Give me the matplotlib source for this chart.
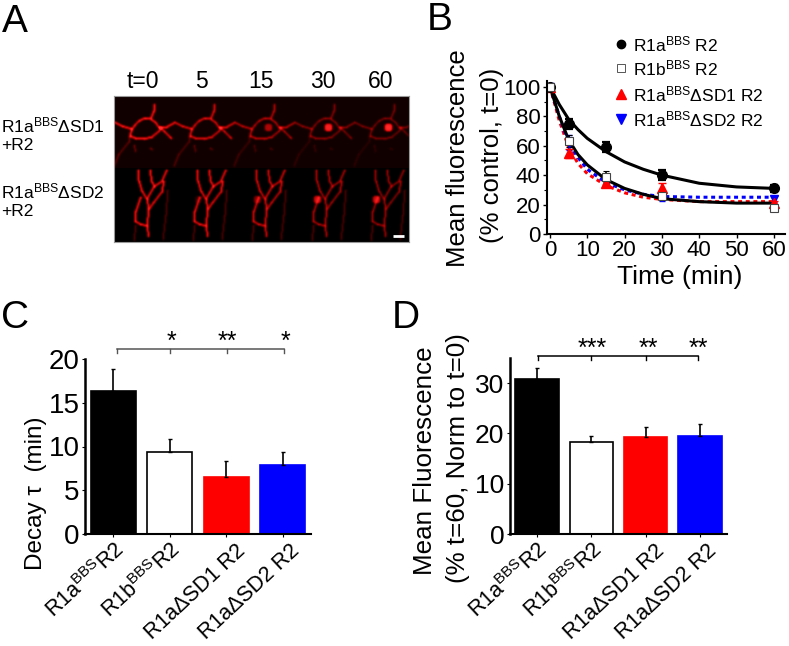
import matplotlib
matplotlib.use("Agg")
import matplotlib.pyplot as plt
from matplotlib.colors import LinearSegmentedColormap
from matplotlib.transforms import ScaledTranslation
import numpy as np

plt.rcParams['font.family'] = ['Liberation Sans', 'DejaVu Sans']
plt.rcParams['mathtext.fontset'] = 'custom'
plt.rcParams['mathtext.rm'] = 'Liberation Sans'
plt.rcParams['mathtext.default'] = 'rm'

W, H = 789, 646

# panel A - traced cell outlines, in pixels of the first frame
time_labels = ['t=0', '5', '15', '30', '60']
time_label_x = [143, 201, 261, 323, 381]
row_labels = ['R1a$^{BBS}$ΔSD1\n+R2', 'R1a$^{BBS}$ΔSD2\n+R2']
top_paths = [
    [(132, 129), (135, 125), (139, 121), (145, 118), (151, 119), (155, 122), (159, 127), (164, 131), (170, 137), (172, 139)],
    [(130, 136), (135, 138), (144, 139), (152, 137), (159, 131), (162, 127)],
    [(114, 122), (122, 126), (132, 129), (130, 136)],
    [(159, 127), (167, 127), (174, 123)],
    [(151, 118), (154, 111), (155, 104)],
]
top_faint = [
    [(114, 166), (119, 154), (129, 142), (130, 136)],
    [(134, 145), (136, 152)],
    [(150, 148), (153, 150)],
]
bottom_paths = [
    [(138, 170), (139, 181), (142, 191), (147, 199), (149, 209), (147, 226), (149, 237)],
    [(167, 170), (162, 181), (154, 187), (147, 199)],
    [(164, 181), (162, 192), (154, 202), (149, 209)],
    [(141, 197), (136, 211), (135, 221), (140, 224), (147, 226)],
    [(150, 170), (152, 182), (155, 187)],
]
bottom_faint = [
    [(136, 225), (134, 241)],
    [(168, 190), (166, 215), (163, 240)],
]
top_offset = [0, 60, 120, 180, 240]
bottom_offset = [0, 59, 118, 178, 237]
top_level = [1.0, 0.8, 0.6, 0.42, 0.36]
bottom_level = [1.0, 0.95, 0.8, 0.62, 0.55]
top_blob = [0, 0, 0.4, 0.8, 0.9]
bottom_blob = [0, 0.1, 0.3, 0.55, 0.55]

# panel B
times = [0, 5, 15, 30, 60]
r1a = [100, 75, 59, 40, 31]
r1a_err = [0, 3.5, 3.5, 3.5, 2.5]
r1b = [100, 63, 39, 26, 18]
r1b_err = [0, 4, 3.5, 3, 1.5]
sd1 = [100, 55, 35, 31, 21]
sd1_err = [0, 3, 2.5, 3.5, 1.5]
sd2 = [100, 62, 37, 25, 24]
sd2_err = [0, 5, 3, 2.5, 2]
# fit curves
fit_t = [0, 2.5, 5, 7.5, 10, 15, 20, 25, 30, 40, 50, 60]
fit_r1a = [100, 88, 78, 71, 65, 56, 49, 44, 40, 34.5, 32, 31]
fit_r1b = [100, 80, 64, 54, 47, 37, 31, 27, 24, 22, 21, 21]
fit_sd1 = [100, 77, 59, 48, 41, 33, 28, 25, 23.5, 22, 22, 22]
fit_sd2 = [100, 80, 62, 52, 44, 35, 30, 27, 25.5, 25, 25, 25]
legend_names = ['R1a$^{BBS}$ R2', 'R1b$^{BBS}$ R2', 'R1a$^{BBS}$ΔSD1 R2', 'R1a$^{BBS}$ΔSD2 R2']

# panels C and D
bar_names = ['R1a$^{BBS}$R2', 'R1b$^{BBS}$R2', 'R1aΔSD1 R2', 'R1aΔSD2 R2']
bar_colors = ['black', 'white', 'red', 'blue']
tau = [16.4, 9.4, 6.5, 7.9]
tau_err = [2.5, 1.5, 1.8, 1.45]
tau_stars = ['*', '**', '*']
remain = [30.8, 18.2, 19.3, 19.5]
remain_err = [2.3, 1.3, 2.0, 2.4]
remain_stars = ['***', '**', '**']


def px_axes(fig, left, top, right, bottom):
    return fig.add_axes([left / W, 1 - bottom / H, (right - left) / W, (bottom - top) / H])


fig = plt.figure(figsize=(W / 100, H / 100), dpi=100)

# overlay in pixel coords for the free text
over = fig.add_axes([0, 0, 1, 1], zorder=5)
over.set_xlim(0, W)
over.set_ylim(H, 0)
over.axis('off')

# ---- A ----
# burn the traced outlines into a small array, soften it, show it as an image
AX0, AX1, AY0, AY1 = 114, 409, 96, 242
canvas = np.zeros((AY1 - AY0, AX1 - AX0))
rows, cols = np.mgrid[0:AY1 - AY0, 0:AX1 - AX0]


def burn(paths, dx, level):
    for p in paths:
        for (x0, y0), (x1, y1) in zip(p[:-1], p[1:]):
            n = int(max(abs(x1 - x0), abs(y1 - y0)) * 2) + 1
            for t in np.linspace(0, 1, n, endpoint=False):
                col = int(x0 + (x1 - x0) * t + dx - AX0)
                row = int(y0 + (y1 - y0) * t - AY0)
                if 0 <= col < canvas.shape[1] and 0 <= row < canvas.shape[0]:
                    canvas[row, col] += level * 0.65


def blob(x, y, level):
    dist = (cols - (x - AX0)) ** 2 + (rows - (y - AY0)) ** 2
    canvas[dist <= 14] += level


for i in range(5):
    burn(top_paths, top_offset[i], top_level[i])
    burn(top_faint, top_offset[i], top_level[i] * 0.3)
    burn(bottom_paths, bottom_offset[i], bottom_level[i])
    burn(bottom_faint, bottom_offset[i], 0.25)
    blob(148 + top_offset[i], 127, top_blob[i])
    blob(139 + bottom_offset[i], 199, bottom_blob[i])

kernel = np.array([0.06, 0.24, 0.4, 0.24, 0.06])
canvas = np.apply_along_axis(lambda v: np.convolve(v, kernel, mode='same'), 0, canvas)
canvas = np.apply_along_axis(lambda v: np.convolve(v, kernel, mode='same'), 1, canvas)
canvas[:168 - AY0] += 0.04

reds = LinearSegmentedColormap.from_list('reds_k', ['#000000', '#8a0000', '#e01010', '#ff2a2a'])
axa = px_axes(fig, AX0, AY0, AX1, AY1)
axa.imshow(canvas, cmap=reds, vmin=0, vmax=0.95, extent=(AX0, AX1, AY1, AY0),
           aspect='auto', interpolation='bilinear')
for s in axa.spines.values():
    s.set_color('#999999')
    s.set_linewidth(0.8)
axa.set_xticks([])
axa.set_yticks([])
axa.plot([393, 404], [236, 236], color='white', lw=2, solid_capstyle='butt')

for x, s in zip(time_label_x, time_labels):
    over.text(x, 82, s, fontsize=16.5, ha='center', va='center')
over.text(1, 134, row_labels[0], fontsize=12.5, ha='left', va='center', linespacing=1.25)
over.text(1, 200, row_labels[1], fontsize=12.5, ha='left', va='center', linespacing=1.25)

# ---- B ----
axb = px_axes(fig, 547, 81, 785, 234)
axb.set_xlim(-0.8, 63)
axb.set_ylim(0, 104)
axb.plot(fit_t, fit_sd1, color='red', lw=2.2, ls=(0, (1.3, 1.2)))
axb.plot(fit_t, fit_sd2, color='blue', lw=2.2, ls=(0, (1.3, 1.2)))
axb.plot(fit_t, fit_r1a, color='black', lw=2.2)
axb.plot(fit_t, fit_r1b, color='black', lw=2.2)
axb.errorbar(times, sd2, yerr=sd2_err, fmt='v', color='blue', ms=6, capsize=2.5, lw=1.2)
axb.errorbar(times, sd1, yerr=sd1_err, fmt='^', color='red', ms=7, capsize=3, lw=1.6)
axb.errorbar(times, r1a, yerr=r1a_err, fmt='o', color='black', ms=7, capsize=3, lw=1.6, capthick=1.6)
axb.errorbar(times, r1b, yerr=r1b_err, fmt='s', mfc='white', mec='#444444', ecolor='black',
             ms=5.5, mew=0.8, capsize=2.5, lw=1.2)
axb.spines['top'].set_visible(False)
axb.spines['right'].set_visible(False)
axb.spines['left'].set_linewidth(1.5)
axb.spines['bottom'].set_linewidth(1.5)
axb.set_xticks(range(0, 61, 10))
axb.set_yticks(range(0, 101, 20))
axb.set_yticks(range(10, 100, 20), minor=True)
axb.tick_params(axis='both', which='major', labelsize=16, length=3, width=1, pad=1.5)
axb.tick_params(axis='y', which='minor', length=2, width=0.8)

over.text(458, 158, 'Mean fluorescence', rotation=90, fontsize=18.5, ha='center', va='center')
over.text(492, 155, '(% control, t=0)', rotation=90, fontsize=18.5, ha='center', va='center')
over.text(680, 277, 'Time (min)', fontsize=19, ha='center', va='center')

legend_y = [44, 68, 94, 119]
over.plot(621, legend_y[0], 'o', color='black', ms=6)
over.plot(621, legend_y[1], 's', mfc='white', mec='#555555', ms=5.5, mew=0.7)
over.plot(621, legend_y[2], '^', color='red', ms=6.5)
over.plot(621, legend_y[3], 'v', color='blue', ms=6.5)
for y, s in zip(legend_y, legend_names):
    over.text(633, y, s, fontsize=12.5, ha='left', va='center')


# ---- C and D ----
def bar_panel(ax, vals, errs, ymax, yticks, tick_size):
    x = np.arange(len(vals))
    ax.bar(x, vals, width=0.8, color=bar_colors, edgecolor=['black', 'black', 'red', 'blue'], linewidth=1.2)
    ax.errorbar(x, vals, yerr=[[0] * len(vals), errs], fmt='none', ecolor='black', capsize=1.5, lw=1.2)
    ax.set_xlim(-0.5, 3.5)
    ax.set_ylim(0, ymax)
    ax.spines['top'].set_visible(False)
    ax.spines['right'].set_visible(False)
    ax.spines['left'].set_linewidth(1.8)
    ax.spines['bottom'].set_linewidth(1.5)
    ax.set_yticks(yticks)
    ax.set_xticks(x)
    ax.set_xticklabels(bar_names, rotation=43, ha='right', rotation_mode='anchor', fontsize=15.5)
    ax.tick_params(axis='y', labelsize=tick_size, length=2, width=0.8, pad=2)
    ax.tick_params(axis='x', length=2, width=0.8, pad=1)
    # the two long labels sit further right; tick_params resets transforms, so do this last
    for lab, dx, dy in zip(ax.get_xticklabels(), [0, 0, 9, 7], [0, 0, 2, 2]):
        lab.set_transform(lab.get_transform() + ScaledTranslation(dx / 100, -dy / 100, fig.dpi_scale_trans))


axc = px_axes(fig, 85, 359, 311, 534)
bar_panel(axc, tau, tau_err, 20, [0, 5, 10, 15, 20], 20)
axd = px_axes(fig, 510, 358, 727, 534)
bar_panel(axd, remain, remain_err, 35, [0, 10, 20, 30], 19)

over.text(36, 493, 'Decay τ  (min)', rotation=90, fontsize=17.5, ha='center', va='center')
over.text(425, 461, 'Mean Fluorescence', rotation=90, fontsize=18.7, ha='center', va='center')
over.text(458, 458, '(% t=60, Norm to t=0)', rotation=90, fontsize=18.7, ha='center', va='center')


def bracket(xs, y, color, stars, star_x, star_y):
    over.plot([xs[0], xs[-1]], [y, y], color=color, lw=1.1)
    for x in xs:
        over.plot([x, x], [y, y + 3.5], color=color, lw=1)
    for x, s in zip(star_x, stars):
        over.text(x, star_y, s, fontsize=18, ha='center', va='center')


bracket([117, 170, 227, 284], 349, '#555555', tau_stars, [171, 227, 285], 342)
bracket([538, 591, 646, 698], 356, 'black', remain_stars, [592, 648, 698], 349)

# panel letters
over.text(2, 22, 'A', fontsize=28, ha='left', va='center')
over.text(427, 20, 'B', fontsize=28, ha='left', va='center')
over.text(1, 318, 'C', fontsize=28, ha='left', va='center')
over.text(392, 318, 'D', fontsize=28, ha='left', va='center')

fig.savefig('out.png', dpi=100)
